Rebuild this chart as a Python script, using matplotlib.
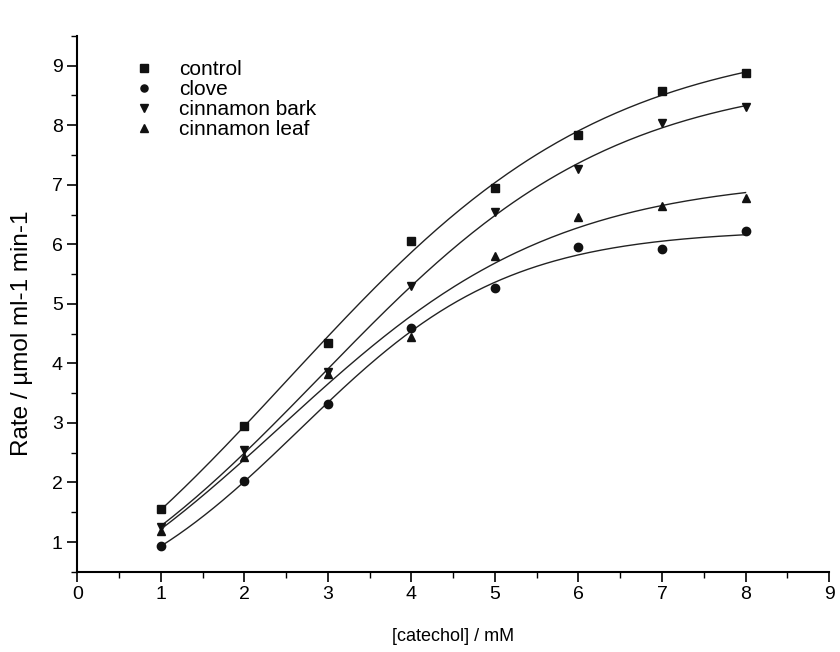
import numpy as np
import matplotlib
matplotlib.use("Agg")
import matplotlib.pyplot as plt
from matplotlib.ticker import MultipleLocator

plt.rcParams['font.family'] = ['Liberation Sans', 'DejaVu Sans']

catechol = [1, 2, 3, 4, 5, 6, 7, 8]
control = [1.55, 2.95, 4.35, 6.05, 6.95, 7.83, 8.58, 8.88]
clove = [0.93, 2.02, 3.32, 4.60, 5.27, 5.95, 5.92, 6.22]
cinnamon_bark = [1.25, 2.55, 3.85, 5.30, 6.55, 7.27, 8.03, 8.30]
cinnamon_leaf = [1.18, 2.42, 3.82, 4.45, 5.80, 6.45, 6.65, 6.77]

series = [
    ("control", control, "s"),
    ("clove", clove, "o"),
    ("cinnamon bark", cinnamon_bark, "v"),
    ("cinnamon leaf", cinnamon_leaf, "^"),
]


def boltz(p, x):
    a1, a2, x0, dx = p
    return a2 + (a1 - a2) / (1.0 + np.exp((x - x0) / dx))


def fit_boltz(x, y):
    p = np.array([0.0, max(y) * 1.1, 3.5, 1.2])
    lam = 1e-2
    for _ in range(500):
        r = y - boltz(p, x)
        J = np.empty((len(x), 4))
        for i in range(4):
            dp = np.zeros(4)
            dp[i] = 1e-6 * max(1.0, abs(p[i]))
            J[:, i] = (boltz(p + dp, x) - boltz(p - dp, x)) / (2 * dp[i])
        A = J.T @ J
        g = J.T @ r
        step = np.linalg.solve(A + lam * np.diag(np.diag(A) + 1e-9), g)
        pn = p + step
        if abs(pn[3]) < 0.05:
            lam *= 10
            continue
        if np.sum((y - boltz(pn, x)) ** 2) < np.sum(r ** 2):
            p = pn
            lam = max(lam / 3, 1e-7)
        else:
            lam *= 5
    return p


fig = plt.figure(figsize=(8.4, 6.52), dpi=100)
ax = fig.add_axes([0.092, 0.123, 0.895, 0.822])

x = np.array(catechol, dtype=float)
xf = np.linspace(x.min(), x.max(), 200)
for name, vals, m in series:
    y = np.array(vals)
    p = fit_boltz(x, y)
    ax.plot(xf, boltz(p, xf), color='#222222', lw=1.0)
    ax.plot(x, vals, linestyle='none', marker=m, color='#111111', markersize=6, label=name)

ax.set_xlim(0, 9)
ax.set_ylim(0.5, 9.5)
ax.xaxis.set_major_locator(MultipleLocator(1))
ax.xaxis.set_minor_locator(MultipleLocator(0.5))
ax.yaxis.set_minor_locator(MultipleLocator(0.5))
ax.set_yticks(range(1, 10))
ax.tick_params(which='major', direction='out', length=7, width=1.2, labelsize=14)
ax.tick_params(which='minor', direction='out', length=4, width=1.0)
for s in ['top', 'right']:
    ax.spines[s].set_visible(False)
for s in ['left', 'bottom']:
    ax.spines[s].set_linewidth(1.5)

ax.set_xlabel('[catechol] / mM', fontsize=13, labelpad=18)
ax.set_ylabel('Rate / µmol ml-1 min-1', fontsize=17.5)
ax.yaxis.set_label_coords(-0.059, 0.446)

leg = ax.legend(loc='upper left', bbox_to_anchor=(0.066, 0.97), frameon=False,
                fontsize=15, handlelength=0.8, handletextpad=1.3, labelspacing=0.05,
                markerscale=0.85, borderaxespad=0)

fig.savefig('out.png', dpi=100)
